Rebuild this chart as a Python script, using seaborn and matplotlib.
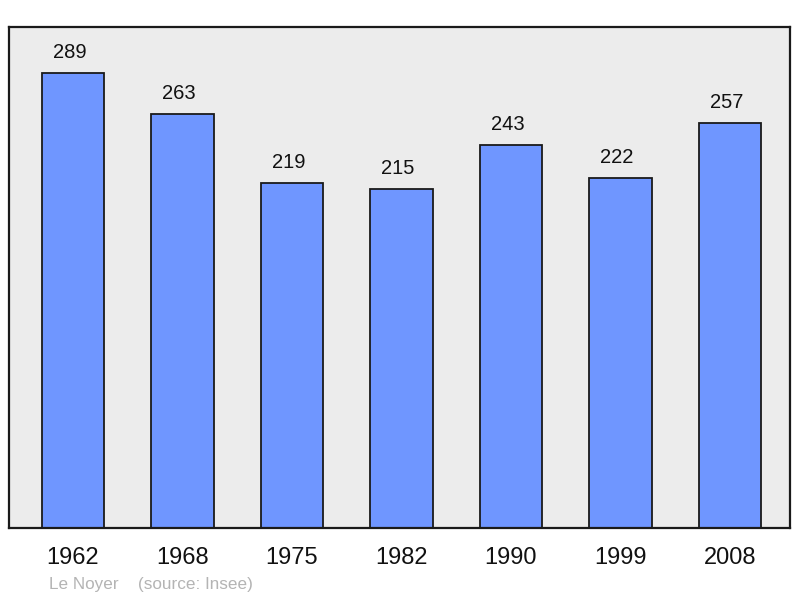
import matplotlib
matplotlib.use("Agg")
import matplotlib.pyplot as plt
import seaborn as sns
import pandas as pd

# Population data
years = ["1962", "1968", "1975", "1982", "1990", "1999", "2008"]
population = [289, 263, 219, 215, 243, 222, 257]

df = pd.DataFrame({"year": years, "pop": population})

sns.set_style("white")
plt.rcParams['font.family'] = ['Liberation Sans', 'DejaVu Sans']

fig = plt.figure(figsize=(8, 5.98), dpi=100)
ax = fig.add_axes([9 / 800, 70 / 598, 781 / 800, 501 / 598])
ax.set_facecolor("#ececec")

sns.barplot(data=df, x="year", y="pop", color="#6f96ff", saturation=1,
            width=0.57, edgecolor="#1a1a1a", linewidth=1.3, ax=ax)

for i, v in enumerate(population):
    ax.annotate(str(v), (i, v), xytext=(-2.5, 7.8), textcoords="offset points",
                ha="center", va="bottom", fontsize=14.5, color="#111111")

ax.set_xlim(-0.584, 6.548)
ax.set_ylim(0, 318)
ax.set_xlabel("")
ax.set_ylabel("")
ax.set_yticks([])
ax.tick_params(axis="x", length=0, pad=13.8, labelsize=17, colors="#111111")
for s in ax.spines.values():
    s.set_visible(True)
    s.set_linewidth(1.6)
    s.set_color("#1a1a1a")

fig.text(49 / 800, 1 - 584 / 598, "Le Noyer", fontsize=12.3, color="#b4b4b4",
         ha="left", va="center")
fig.text(138 / 800, 1 - 584 / 598, "(source: Insee)", fontsize=12.3, color="#b4b4b4",
         ha="left", va="center")

fig.savefig("out.png", dpi=100)
